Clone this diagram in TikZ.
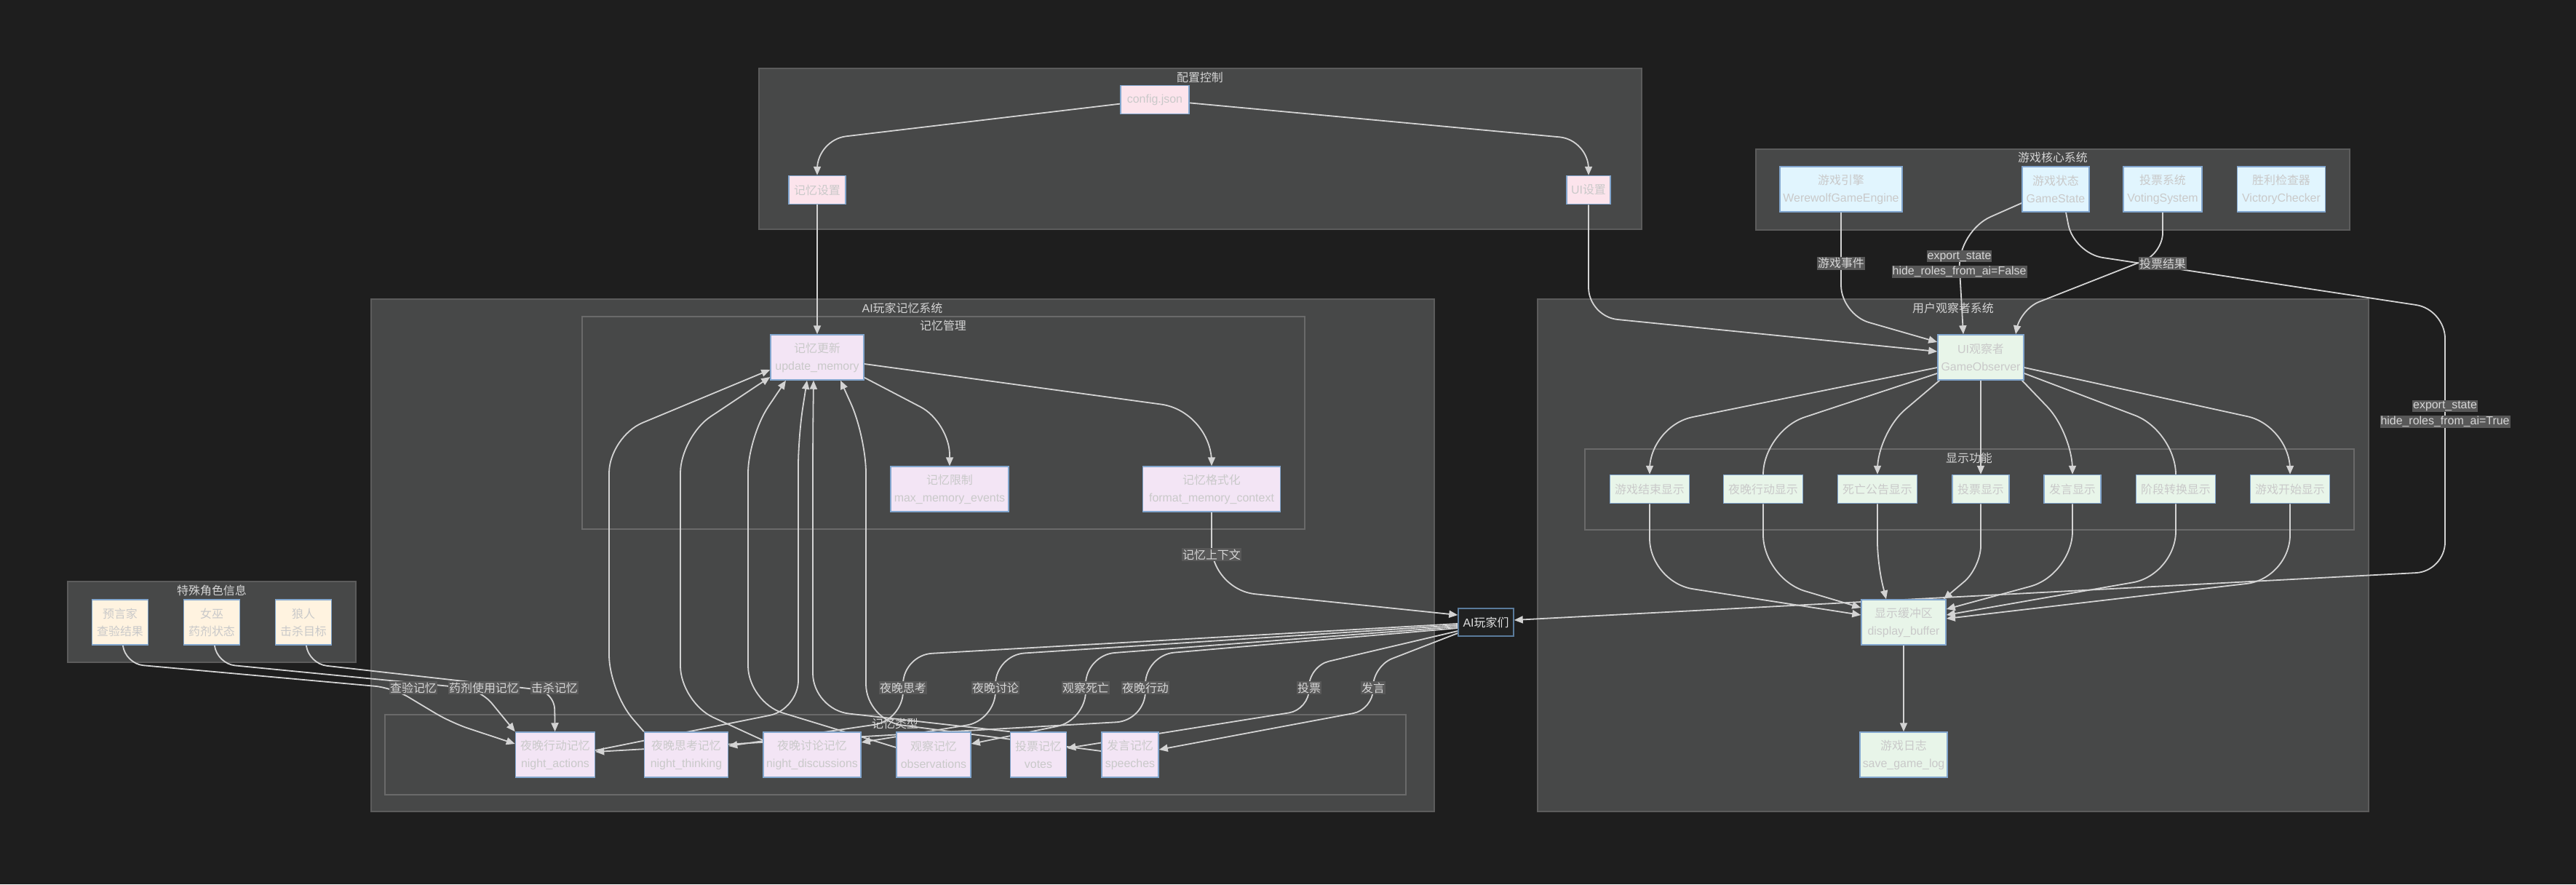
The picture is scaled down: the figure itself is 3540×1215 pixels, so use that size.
\documentclass[tikz,border=0pt]{standalone}
\usepackage{fontspec}
\setmainfont{Liberation Sans}
\newfontfamily\cjk{Noto Sans CJK SC}
\usetikzlibrary{arrows.meta}
\definecolor{pagebg}{HTML}{1E1E1E}
\definecolor{clfill}{HTML}{474848}
\definecolor{clline}{HTML}{5C5C5C}
\definecolor{subline}{HTML}{6A6A6A}
\definecolor{titletxt}{HTML}{D4D4D4}
\definecolor{nodeline}{HTML}{82A6CE}
\definecolor{nodetxt}{HTML}{C9C9C9}
\definecolor{cfgfill}{HTML}{FCE4EC}
\definecolor{corefill}{HTML}{E1F5FE}
\definecolor{memfill}{HTML}{F3E5F5}
\definecolor{obsfill}{HTML}{E8F5E9}
\definecolor{rolefill}{HTML}{FFF3E0}
\definecolor{aifill}{HTML}{202121}
\definecolor{ailine}{HTML}{5A7B9B}
\definecolor{edgecol}{HTML}{D3D3D3}
\definecolor{lblbg}{HTML}{585858}
\definecolor{lbltxt}{HTML}{D6D6D6}
\setlength{\fboxsep}{1bp}
\newcommand{\lblline}[1]{\colorbox{lblbg}{\vphantom{Xg}#1}}
\pgfdeclarelayer{bg}
\pgfdeclarelayer{edges}
\pgfsetlayers{bg,edges,main}
\tikzset{
  nbox/.style={draw=nodeline, line width=1.5bp, text=nodetxt, align=center, inner sep=0pt, minimum height=39bp, font=\fontsize{16}{24}\selectfont},
  twoline/.style={minimum height=62bp},
  cfgbox/.style={nbox, fill=cfgfill},
  corebox/.style={nbox, twoline, fill=corefill},
  membox/.style={nbox, twoline, fill=memfill},
  obsbox/.style={nbox, fill=obsfill},
  rolebox/.style={nbox, twoline, fill=rolefill},
  aibox/.style={draw=ailine, line width=1.5bp, fill=aifill, text=white!88!black, inner sep=0pt, minimum width=76bp, minimum height=38bp, font=\fontsize{16}{20}\selectfont},
  cluster/.style={fill=clfill, draw=clline, line width=1.5bp},
  subcluster/.style={draw=subline, line width=1.2bp},
  cltitle/.style={text=titletxt, font=\fontsize{16}{20}\selectfont},
  lbl/.style={sharp corners, fill=lblbg, text=lbltxt, inner xsep=1bp, inner ysep=1.5bp, font=\fontsize{16}{19}\selectfont},
  lbl2/.style={sharp corners, text=lbltxt, inner sep=0pt, align=center, font=\fontsize{16}{22}\selectfont},
  conn/.style={draw=edgecol, line width=1.8bp, rounded corners=40bp, -{Triangle[length=12bp,width=10bp]}},
}
\begin{document}
\begin{tikzpicture}[x=1bp,y=-1bp]
\useasboundingbox (0,0) rectangle (3540,1215);
\begin{pgfonlayer}{bg}
\fill[pagebg] (0,0) rectangle (3540,1215);
\draw[cluster] (1043,94) rectangle (2256,315);
\draw[cluster] (2413,205) rectangle (3229,316);
\draw[cluster] (510,411) rectangle (1971,1115);
\draw[cluster] (2113,411) rectangle (3255,1115);
\draw[cluster] (93,799) rectangle (489,910);
\draw[subcluster] (800,435) rectangle (1793,727);
\draw[subcluster] (2178,617) rectangle (3235,728);
\draw[subcluster] (529,982) rectangle (1932,1092);
\end{pgfonlayer}
\node[cltitle] (tcfg) at (1649,106) {\cjk 配置控制};
\node[cltitle] (tcore) at (2821,216) {\cjk 游戏核心系统};
\node[cltitle] (tmem) at (1240,423) {AI{\cjk 玩家记忆系统}};
\node[cltitle] (tmgmt) at (1296,447) {\cjk 记忆管理};
\node[cltitle] (tobs) at (2684,423) {\cjk 用户观察者系统};
\node[cltitle] (tdisp) at (2706,629) {\cjk 显示功能};
\node[cltitle] (trole) at (291,811) {\cjk 特殊角色信息};
\node[cltitle] (ttype) at (1230,994) {\cjk 记忆类型};

\node[cfgbox, minimum width=94bp] (cfg) at (1587,137) {config.json};
\node[cfgbox, minimum width=78bp] (memcfg) at (1123,261) {\cjk 记忆设置};
\node[cfgbox, minimum width=60bp] (uicfg) at (2183,261) {UI{\cjk 设置}};

\node[corebox, minimum width=168bp] (engine) at (2530,260) {{\cjk 游戏引擎}\\WerewolfGameEngine};
\node[corebox, minimum width=92bp] (gstate) at (2825,260) {{\cjk 游戏状态}\\GameState};
\node[corebox, minimum width=108bp] (voting) at (2972,260) {{\cjk 投票系统}\\VotingSystem};
\node[corebox, minimum width=121bp] (victory) at (3135,260) {{\cjk 胜利检查器}\\VictoryChecker};

\node[obsbox, twoline, minimum width=118bp] (observer) at (2722,491) {UI{\cjk 观察者}\\GameObserver};
\node[obsbox, minimum width=109bp] (dend) at (2267,672) {\cjk 游戏结束显示};
\node[obsbox, minimum width=109bp] (dnight) at (2423,672) {\cjk 夜晚行动显示};
\node[obsbox, minimum width=109bp] (ddeath) at (2580,672) {\cjk 死亡公告显示};
\node[obsbox, minimum width=78bp] (dvote) at (2722,672) {\cjk 投票显示};
\node[obsbox, minimum width=78bp] (dspeech) at (2848,672) {\cjk 发言显示};
\node[obsbox, minimum width=109bp] (dphase) at (2990,672) {\cjk 阶段转换显示};
\node[obsbox, minimum width=109bp] (dstart) at (3147,672) {\cjk 游戏开始显示};
\node[obsbox, twoline, minimum width=116bp] (buffer) at (2616,855) {{\cjk 显示缓冲区}\\display\_buffer};
\node[obsbox, twoline, minimum width=120bp] (gamelog) at (2616,1037) {{\cjk 游戏日志}\\save\_game\_log};

\node[membox, minimum width=128bp] (update) at (1123,491) {{\cjk 记忆更新}\\update\_memory};
\node[membox, minimum width=162bp] (maxmem) at (1305,672) {{\cjk 记忆限制}\\max\_memory\_events};
\node[membox, minimum width=189bp] (fmtmem) at (1665,672) {{\cjk 记忆格式化}\\format\_memory\_context};
\node[aibox] (ai) at (2042,855) {AI{\cjk 玩家们}};

\node[rolebox, minimum width=77bp] (seer) at (165,855) {{\cjk 预言家}\\{\cjk 查验结果}};
\node[rolebox, minimum width=77bp] (witch) at (291,855) {{\cjk 女巫}\\{\cjk 药剂状态}};
\node[rolebox, minimum width=77bp] (wolf) at (417,855) {{\cjk 狼人}\\{\cjk 击杀目标}};

\node[membox, minimum width=109bp] (mact) at (763,1037) {{\cjk 夜晚行动记忆}\\night\_actions};
\node[membox, minimum width=115bp] (mthink) at (943,1037) {{\cjk 夜晚思考记忆}\\night\_thinking};
\node[membox, minimum width=134bp] (mdisc) at (1116,1037) {{\cjk 夜晚讨论记忆}\\night\_discussions};
\node[membox, minimum width=102bp] (mobs) at (1283,1037) {{\cjk 观察记忆}\\observations};
\node[membox, minimum width=77bp] (mvote) at (1427,1037) {{\cjk 投票记忆}\\votes};
\node[membox, minimum width=78bp] (mspeech) at (1553,1037) {{\cjk 发言记忆}\\speeches};

\begin{pgfonlayer}{edges}
\draw[conn] (cfg) -- (1123,192) -- (memcfg);
\draw[conn] (cfg) -- (2183,192) -- (uicfg);
\draw[conn] (memcfg) -- (update);
\draw[conn] (uicfg) -- (2183,435) -- ([yshift=8bp]observer.west);
\draw[conn] (engine) -- node[lbl]{\cjk 游戏事件} (2530,432) -- ([yshift=21bp]observer.west);
\draw[conn, rounded corners=50bp] ([yshift=-19bp]gstate.west) -- (2690,318) -- node[lbl2, pos=0.32]{\lblline{export\_state}\\\lblline{hide\_roles\_from\_ai=False}} ([xshift=-24bp]observer.north);
\draw[conn] ([xshift=14bp]gstate.south) -- (2850,348) -- (3360,425) -- node[lbl2, pos=0.4]{\lblline{export\_state}\\\lblline{hide\_roles\_from\_ai=True}} (3360,785) -- ([yshift=3bp]ai.east);
\draw[conn, rounded corners=28bp] (voting) -- (2972,348) -- (2776,425) -- ([xshift=48bp]observer.north) node[lbl] at (2972,362) {\cjk 投票结果};

\draw[conn, rounded corners=60bp] ([yshift=-14bp]observer.west) -- (2267,585) -- (dend);
\draw[conn, rounded corners=60bp] ([yshift=-22bp]observer.west) -- (2423,592) -- (dnight);
\draw[conn, rounded corners=50bp] ([xshift=3bp]observer.south west) -- (2580,595) -- (ddeath);
\draw[conn] (observer) -- (dvote);
\draw[conn, rounded corners=50bp] ([xshift=-3bp]observer.south east) -- (2848,595) -- (dspeech);
\draw[conn, rounded corners=60bp] ([yshift=-22bp]observer.east) -- (2990,592) -- (dphase);
\draw[conn, rounded corners=60bp] ([yshift=-14bp]observer.east) -- (3147,585) -- (dstart);

\draw[conn, rounded corners=60bp] (dend) -- (2267,800) -- ([yshift=10bp]buffer.west);
\draw[conn, rounded corners=60bp] (dnight) -- (2423,795) -- ([yshift=20bp]buffer.west);
\draw[conn, rounded corners=30bp] (ddeath) -- (2580,775) -- ([xshift=-24bp]buffer.north);
\draw[conn, rounded corners=30bp] (dvote) -- (2722,780) -- ([xshift=-4bp]buffer.north east);
\draw[conn, rounded corners=60bp] (dspeech) -- (2848,790) -- ([yshift=18bp]buffer.east);
\draw[conn, rounded corners=60bp] (dphase) -- (2990,790) -- ([yshift=10bp]buffer.east);
\draw[conn, rounded corners=60bp] (dstart) -- (3147,795) -- ([yshift=5bp]buffer.east);
\draw[conn] (buffer) -- (gamelog);

\draw[conn, rounded corners=45bp] ([yshift=4bp]update.south east) -- (1305,580) -- (maxmem);
\draw[conn, rounded corners=70bp] ([yshift=-9bp]update.east) -- (1665,565) -- (fmtmem);
\draw[conn, rounded corners=60bp] (fmtmem) -- node[lbl, pos=0.55]{\cjk 记忆上下文} (1665,810) -- ([yshift=10bp]ai.west);

\draw[conn] ([yshift=6bp]mact.east) -- (1097,975) -- (1097,600) -- ([xshift=-14bp]update.south);
\draw[conn, rounded corners=50bp] (mthink.north west) -- (837,950) -- (837,600) -- ([yshift=-17bp]update.west);
\draw[conn, rounded corners=50bp] ([yshift=20bp]mdisc.west) -- (935,965) -- (935,600) -- ([yshift=-27bp]update.west);
\draw[conn, rounded corners=50bp] ([yshift=10bp]mobs.west) -- (1028,965) -- (1028,600) -- ([xshift=-43bp]update.south);
\draw[conn, rounded corners=50bp] (mvote.north west) -- (1117,975) -- (1117,600) -- ([xshift=-5bp]update.south);
\draw[conn, rounded corners=50bp] ([yshift=5bp]mspeech.west) -- (1190,990) -- (1190,600) -- ([xshift=32bp]update.south);

\draw[conn] ([yshift=-2bp]ai.west) -- (1241,900) -- node[lbl]{\cjk 夜晚思考} (1241,990) -- ([yshift=12bp]mthink.east);
\draw[conn] ([yshift=-4bp]ai.west) -- (1368,900) -- node[lbl]{\cjk 夜晚讨论} (1368,990) -- ([yshift=17bp]mdisc.east);
\draw[conn] ([yshift=-6bp]ai.west) -- (1492,900) -- node[lbl]{\cjk 观察死亡} (1492,990) -- ([yshift=15bp]mobs.east);
\draw[conn] ([yshift=-8bp]ai.west) -- (1574,900) -- node[lbl]{\cjk 夜晚行动} (1574,990) -- ([yshift=4bp]mact.east);
\draw[conn, rounded corners=28bp] ([yshift=-12bp]ai.west) -- (1799,915) -- node[lbl]{\cjk 投票} (1799,975) -- ([yshift=9bp]mvote.east);
\draw[conn, rounded corners=28bp] ([yshift=-15bp]ai.west) -- (1887,915) -- node[lbl]{\cjk 发言} (1887,975) -- ([yshift=7bp]mspeech.east);

\draw[conn, rounded corners=25bp] (wolf) -- (424,912) -- (762,950) -- (mact) node[lbl] at (762,945) {\cjk 击杀记忆};
\draw[conn, rounded corners=25bp] (witch) -- (298,912) -- (660,947) -- (mact.north west) node[lbl] at (665,945) {\cjk 药剂使用记忆};
\draw[conn, rounded corners=25bp] (seer) -- (172,912) -- (540,945) -- (620,993) -- ([yshift=15bp]mact.west) node[lbl] at (568,945) {\cjk 查验记忆};
\end{pgfonlayer}
\end{tikzpicture}
\end{document}
